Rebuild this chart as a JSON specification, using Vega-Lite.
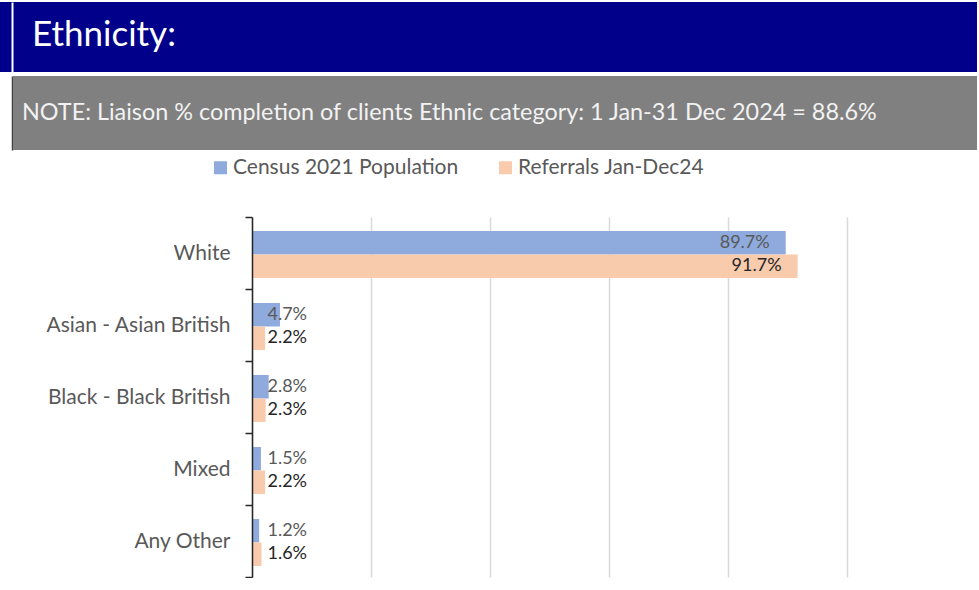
{
  "$schema": "https://vega.github.io/schema/vega-lite/v6.json",
  "background": "white",
  "padding": {"left": 0, "top": 2, "right": 0, "bottom": 0},
  "config": {"view": {"stroke": null}, "font": "Lato"},
  "concat": [
    {
      "concat": [
        {
          "width": 977,
          "height": 70,
          "view": {"fill": "#00008B", "stroke": null},
          "data": {"values": [{"t": "Ethnicity:"}]},
          "mark": {"type": "text", "align": "left", "baseline": "middle", "color": "white", "fontSize": 35, "font": "Lato", "dx": 32, "dy": -2},
          "encoding": {
            "text": {"field": "t"},
            "x": {"datum": 0, "type": "quantitative", "scale": {"domain": [0, 1]}, "axis": null},
            "y": {"field": "t", "type": "nominal", "axis": {"title": null, "labels": false, "ticks": false, "domain": true, "domainColor": "white", "domainWidth": 2, "offset": -12}}
          }
        },
        {
          "width": 977,
          "height": 74,
          "data": {"values": [{"note": "NOTE: Liaison % completion of clients Ethnic category: 1 Jan-31 Dec 2024 = 88.6%"}]},
          "encoding": {
            "x": {"datum": 0, "type": "quantitative", "scale": {"domain": [0, 1], "range": [13, 977]}, "axis": null}
          },
          "layer": [
            {
              "mark": {"type": "rect", "color": "#808080"},
              "encoding": {"x2": {"datum": 1}}
            },
            {
              "mark": {"type": "text", "align": "left", "baseline": "middle", "color": "#F2F2F2", "fontSize": 23.4, "font": "Lato", "dx": 9},
              "encoding": {
                "text": {"field": "note"},
                "y": {"field": "note", "type": "nominal", "axis": {"title": null, "labels": false, "ticks": false, "domain": true, "domainColor": "#404040", "domainWidth": 1.5, "offset": -12}}
              }
            }
          ]
        }
      ],
      "columns": 1,
      "spacing": 4
    },
    {
      "width": 977,
      "height": 360,
      "data": {
        "values": [
          {"group": "White", "series": "Census 2021 Population", "pct": 0.897},
          {"group": "White", "series": "Referrals Jan-Dec24", "pct": 0.917},
          {"group": "Asian - Asian British", "series": "Census 2021 Population", "pct": 0.047},
          {"group": "Asian - Asian British", "series": "Referrals Jan-Dec24", "pct": 0.022},
          {"group": "Black - Black British", "series": "Census 2021 Population", "pct": 0.028},
          {"group": "Black - Black British", "series": "Referrals Jan-Dec24", "pct": 0.023},
          {"group": "Mixed", "series": "Census 2021 Population", "pct": 0.015},
          {"group": "Mixed", "series": "Referrals Jan-Dec24", "pct": 0.022},
          {"group": "Any Other", "series": "Census 2021 Population", "pct": 0.012},
          {"group": "Any Other", "series": "Referrals Jan-Dec24", "pct": 0.016}
        ]
      },
      "encoding": {
        "y": {
          "field": "group", "type": "nominal",
          "sort": ["White", "Asian - Asian British", "Black - Black British", "Mixed", "Any Other"],
          "scale": {"paddingInner": 0, "paddingOuter": 0},
          "axis": {
            "title": null, "offset": -252,
            "tickBand": "extent", "tickSize": 7, "tickColor": "#262626", "tickWidth": 1.5,
            "domainColor": "#262626", "domainWidth": 1.5,
            "labelPadding": 15, "labelFontSize": 21, "labelColor": "#595959", "labelFont": "Lato", "labelLimit": 0,
            "grid": false, "zindex": 1
          }
        },
        "yOffset": {
          "field": "series", "type": "nominal",
          "sort": ["Census 2021 Population", "Referrals Jan-Dec24"],
          "scale": {"paddingInner": 0, "paddingOuter": 0.53, "align": 0.56}
        },
        "x": {
          "field": "pct", "type": "quantitative",
          "scale": {"domain": [0, 1], "range": [252, 847]},
          "axis": {"values": [0, 0.2, 0.4, 0.6, 0.8, 1], "labels": false, "ticks": false, "domain": false, "title": null, "grid": true, "gridColor": "#D9D9D9", "gridWidth": 1.5}
        }
      },
      "layer": [
        {
          "mark": {"type": "bar"},
          "encoding": {
            "color": {
              "field": "series", "type": "nominal",
              "scale": {"domain": ["Census 2021 Population", "Referrals Jan-Dec24"], "range": ["#8FAADC", "#F8CBAD"]},
              "legend": {
                "orient": "none", "legendX": 210, "legendY": 155, "direction": "horizontal",
                "title": null, "symbolType": "square", "symbolSize": 169, "symbolStrokeWidth": 0,
                "labelFontSize": 21, "labelColor": "#595959", "labelFont": "Lato", "labelLimit": 0,
                "columnPadding": 36, "labelOffset": 2, "padding": 0
              }
            }
          }
        },
        {
          "transform": [{"filter": "datum.group === 'White'"}],
          "mark": {"type": "text", "align": "right", "baseline": "middle", "dx": -16, "fontSize": 18, "font": "Lato"},
          "encoding": {
            "text": {"field": "pct", "format": ".1%"},
            "color": {"condition": {"test": "datum.series === 'Census 2021 Population'", "value": "#595959"}, "value": "#262626"}
          }
        },
        {
          "transform": [{"filter": "datum.group !== 'White'"}],
          "mark": {"type": "text", "align": "left", "baseline": "middle", "fontSize": 18, "font": "Lato"},
          "encoding": {
            "x": {"datum": 0.026, "type": "quantitative"},
            "text": {"field": "pct", "format": ".1%"},
            "color": {"condition": {"test": "datum.series === 'Census 2021 Population'", "value": "#595959"}, "value": "#262626"}
          }
        }
      ]
    }
  ],
  "columns": 1,
  "spacing": 56
}
